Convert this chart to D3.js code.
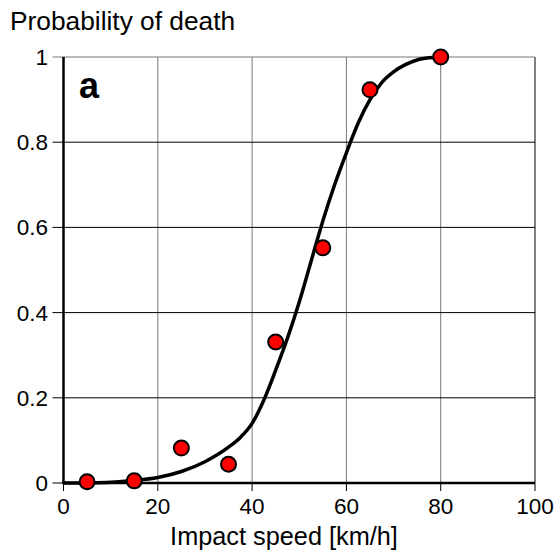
<!DOCTYPE html>
<html>
<head>
<meta charset="utf-8">
<script src="https://cdn.jsdelivr.net/npm/d3@7"></script>
<style>
  body { margin: 0; background: #fff; }
  text { font-family: "Liberation Sans", Arial, sans-serif; fill: #000; }
</style>
</head>
<body>
<div id="chart"></div>
<script>
// observed points
var speeds = [5, 15, 25, 35, 45, 55, 65, 80];
var deathProb = [0.003, 0.005, 0.082, 0.044, 0.331, 0.552, 0.923, 1.0];

// fitted curve
var curveSpeed = [0, 10, 15, 20, 25, 30, 35, 37.5, 40, 42.5, 45, 47.5, 50, 52.5, 55, 57.5, 60, 62.5, 65, 67.5, 70, 72.5, 75, 77.5, 80];
var curveProb = [0, 0.002, 0.006, 0.013, 0.027, 0.05, 0.084, 0.107, 0.14, 0.195, 0.265, 0.34, 0.425, 0.52, 0.615, 0.7, 0.775, 0.845, 0.9, 0.94, 0.965, 0.982, 0.993, 0.998, 1.0];

var xTicks = [0, 20, 40, 60, 80, 100];
var yTicks = [0, 0.2, 0.4, 0.6, 0.8, 1];

var W = 555, H = 556;
var plot = { x0: 63.5, x1: 535, y0: 483, y1: 57 };

var svg = d3.select('#chart')
  .append('svg')
    .attr('width', W)
    .attr('height', H);

var x = d3.scaleLinear().domain([0, 100]).range([plot.x0, plot.x1]);
var y = d3.scaleLinear().domain([0, 1]).range([plot.y0, plot.y1]);

// vertical grid (gray)
svg.append('g')
  .selectAll('line')
  .data(xTicks.slice(1))
  .enter()
    .append('line')
      .attr('x1', function (d) { return x(d); })
      .attr('x2', function (d) { return x(d); })
      .attr('y1', plot.y1)
      .attr('y2', plot.y0)
      .attr('stroke', function (d) { return d == 100 ? '#000' : '#777'; })
      .attr('stroke-width', 1);

// horizontal grid (black), extends left as tick
svg.append('g')
  .selectAll('line')
  .data(yTicks.slice(1))
  .enter()
    .append('line')
      .attr('x1', plot.x0 - 11)
      .attr('x2', plot.x1)
      .attr('y1', function (d) { return y(d); })
      .attr('y2', function (d) { return y(d); })
      .attr('stroke', function (d) { return d == 1 ? '#777' : '#000'; })
      .attr('stroke-width', 1);

// x ticks
svg.append('g')
  .selectAll('line')
  .data(xTicks)
  .enter()
    .append('line')
      .attr('x1', function (d) { return x(d); })
      .attr('x2', function (d) { return x(d); })
      .attr('y1', plot.y0)
      .attr('y2', plot.y0 + 8)
      .attr('stroke', '#000')
      .attr('stroke-width', 1);

// y tick for 0
svg.append('line')
  .attr('x1', plot.x0 - 11).attr('x2', plot.x0)
  .attr('y1', y(0)).attr('y2', y(0))
  .attr('stroke', '#000');

// axes
svg.append('line')
  .attr('x1', plot.x0).attr('x2', plot.x0)
  .attr('y1', plot.y1).attr('y2', plot.y0 + 1)
  .attr('stroke', '#000').attr('stroke-width', 2.5);
svg.append('line')
  .attr('x1', plot.x0 - 1).attr('x2', plot.x1)
  .attr('y1', plot.y0).attr('y2', plot.y0)
  .attr('stroke', '#000').attr('stroke-width', 2.5);

// tick labels
svg.append('g')
  .selectAll('text')
  .data(xTicks)
  .enter()
    .append('text')
      .attr('x', function (d) { return x(d); })
      .attr('y', 514)
      .attr('text-anchor', 'middle')
      .style('font-size', '22.5px')
      .text(function (d) { return d; });

svg.append('g')
  .selectAll('text')
  .data(yTicks)
  .enter()
    .append('text')
      .attr('x', 48)
      .attr('y', function (d) { return y(d) + 8; })
      .attr('text-anchor', 'end')
      .style('font-size', '22.5px')
      .text(function (d) { return d; });

// titles
svg.append('text')
  .attr('x', 10).attr('y', 30)
  .style('font-size', '26.3px')
  .text('Probability of death');
svg.append('text')
  .attr('x', 284).attr('y', 545)
  .attr('text-anchor', 'middle')
  .style('font-size', '25.3px')
  .text('Impact speed [km/h]');
svg.append('text')
  .attr('x', 79).attr('y', 98)
  .style('font-size', '36px')
  .style('font-weight', 'bold')
  .text('a');

// curve
var line = d3.line()
  .x(function (d) { return x(d[0]); })
  .y(function (d) { return y(d[1]); })
  .curve(d3.curveMonotoneX);

svg.append('path')
  .datum(d3.zip(curveSpeed, curveProb))
  .attr('d', line)
  .attr('fill', 'none')
  .attr('stroke', '#000')
  .attr('stroke-width', 3.5)
  .attr('stroke-linejoin', 'round');

// points
svg.append('g')
  .selectAll('circle')
  .data(d3.zip(speeds, deathProb))
  .enter()
    .append('circle')
      .attr('cx', function (d) { return x(d[0]); })
      .attr('cy', function (d) { return y(d[1]); })
      .attr('r', 7.5)
      .style('fill', '#f00')
      .attr('stroke', '#000')
      .attr('stroke-width', 2);
</script>
</body>
</html>
